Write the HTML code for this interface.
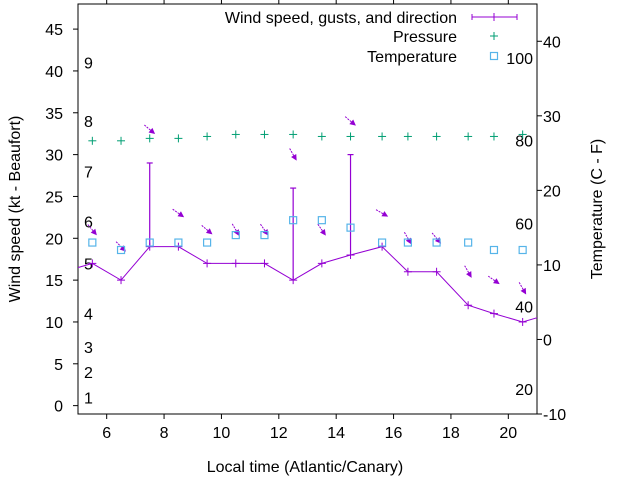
<!DOCTYPE html>
<html><head><meta charset="utf-8"><style>
html,body{margin:0;padding:0;background:#fff}
svg{display:block;font-family:"Liberation Sans",sans-serif}
</style></head><body>
<svg id="chart" width="640" height="480" viewBox="0 0 640 480" xmlns="http://www.w3.org/2000/svg">
<defs><clipPath id="plotclip"><rect x="78" y="4" width="459" height="410"/></clipPath></defs>
<g id="grid"></g>
<g id="marks" clip-path="url(#plotclip)"></g>
<g id="legend"></g>
</svg>
<script>
const times = [4.5,5.5,6.5,7.5,8.5,9.5,10.5,11.5,12.5,13.5,14.5,15.6,16.5,17.5,18.6,19.5,20.5,21.5];
const windKt = [16,17,15,19,19,17,17,17,15,17,18,19,16,16,12,11,10,11];
const gustKt = [null,null,null,29,null,null,null,null,26,null,30,null,null,null,null,null,null,null];
const windDir = [null,320,315,310,305,310,330,325,330,325,310,300,330,320,330,305,330,null];
const pressureScaled = [null,31.65,31.65,31.94,31.94,32.17,32.41,32.41,32.41,32.17,32.17,32.17,32.17,32.17,32.17,32.17,32.41,null];
const tempC = [null,13,12,13,13,13,14,14,16,16,15,13,13,13,13,12,12,null];
const xTicks = [6,8,10,12,14,16,18,20];
const yTicks = [0,5,10,15,20,25,30,35,40,45];
const y2Ticks = [-10,0,10,20,30,40];
const beaufortKt = [1,4,7,11,17,22,28,34,41];
const beaufortLabels = ["1","2","3","4","5","6","7","8","9"];
const fahrenheit = [20,40,60,80,100];

const L=78,R=537,T=4,B=414;
const FS=16;
const X=v=>L+(v-5)/(21-5)*(R-L);
const Y=v=>B-(v+1)/(48+1)*(B-T);
const Y2=v=>B-(v+10)/(45+10)*(B-T);
const NS="http://www.w3.org/2000/svg";
function mk(tag,attrs,parent,text){const e=document.createElementNS(NS,tag);for(const k in attrs)e.setAttribute(k,attrs[k]);if(text!==undefined)e.textContent=text;parent.appendChild(e);return e;}
const grid=document.getElementById('grid'),marks=document.getElementById('marks'),legend=document.getElementById('legend');
const WC="#9400d3",PC="#009e73",TC="#56b4e9";

let fr=mk('rect',{x:L,y:T,width:R-L,height:B-T,fill:'none',stroke:'#000','stroke-width':1},grid);

xTicks.forEach(v=>{const x=X(v);
 mk('line',{x1:x,y1:B,x2:x,y2:B+5,stroke:'#000'},grid);
 mk('line',{x1:x,y1:T,x2:x,y2:T-5,stroke:'#000'},grid);
 const t=mk('text',{x:x,y:B+24,'text-anchor':'middle','font-size':FS},grid,String(v));
 });
yTicks.forEach(v=>{const y=Y(v);
 mk('line',{x1:L,y1:y,x2:L-5,y2:y,stroke:'#000'},grid);
 const t=mk('text',{x:63,y:y+6,'text-anchor':'end','font-size':FS},grid,String(v));
 });
y2Ticks.forEach(v=>{const y=Y2(v);
 mk('line',{x1:R,y1:y,x2:R+5,y2:y,stroke:'#000'},grid);
 const t=mk('text',{x:543,y:y+6,'text-anchor':'start','font-size':FS},grid,String(v));
 });
beaufortKt.forEach((v,i)=>{const t=mk('text',{x:84,y:Y(v)+6,'font-size':FS},grid,beaufortLabels[i]);
 });
fahrenheit.forEach(f=>{const c=(f-32)*5/9;const t=mk('text',{x:533,y:Y2(c)+6,'text-anchor':'end','font-size':FS},grid,String(f));
 });
let t1=mk('text',{x:305,y:472,'text-anchor':'middle','font-size':FS},grid,'Local time (Atlantic/Canary)');

let t2=mk('text',{transform:'translate(20,209) rotate(-90)','text-anchor':'middle','font-size':FS},grid,'Wind speed (kt - Beaufort)');

let t3=mk('text',{transform:'translate(602,209) rotate(-90)','text-anchor':'middle','font-size':FS},grid,'Temperature (C - F)');


function plus(x,y,c,p){mk('line',{x1:x-4,y1:y,x2:x+4,y2:y,stroke:c},p);mk('line',{x1:x,y1:y-4,x2:x,y2:y+4,stroke:c},p);}
const pts=times.map((t,i)=>X(t)+','+Y(windKt[i])).join(' ');
let wl=mk('polyline',{points:pts,fill:'none',stroke:WC,'stroke-width':1},marks);

times.forEach((t,i)=>{const x=X(t);
 const g=mk('g',{},marks);
 plus(x,Y(windKt[i]),WC,g);
 if(gustKt[i]!=null){const gy=Y(gustKt[i]);
  mk('line',{x1:x,y1:Y(windKt[i]),x2:x,y2:gy,stroke:WC,'stroke-width':1.2},g);
  mk('line',{x1:x-3,y1:gy,x2:x+3,y2:gy,stroke:WC,'stroke-width':1.2},g);}
 if(windDir[i]!=null){const top=Math.max(windKt[i],gustKt[i]||0)+4;const cy=Y(top);
  const a=(windDir[i]+180)*Math.PI/180; const dx=Math.sin(a)*7,dy=-Math.cos(a)*7;
  const x1=x-dx,y1=cy-dy,x2=x+dx,y2=cy+dy;const ux=dx/7,uy=dy/7;
  const ar=mk('g',{},marks);
  mk('line',{x1:x1,y1:y1,x2:x2-ux*3,y2:y2-uy*3,stroke:WC,'stroke-width':1,'stroke-dasharray':'2,1'},ar);
  const bx=x2-ux*6,by=y2-uy*6;
  mk('polygon',{points:`${x2},${y2} ${bx-uy*3},${by+ux*3} ${bx+uy*3},${by-ux*3}`,fill:WC},ar);}
});
times.forEach((t,i)=>{if(pressureScaled[i]==null)return;
 const g=mk('g',{},marks);
 plus(X(t),Y(pressureScaled[i]),PC,g);});
times.forEach((t,i)=>{if(tempC[i]==null)return;
 const r=mk('rect',{x:X(t)-3.5,y:Y2(tempC[i])-3.5,width:7,height:7,fill:'none',stroke:TC,'stroke-width':1.2},marks);
 });

const lg=[['Wind speed, gusts, and direction',17],['Pressure',36],['Temperature',56]];
lg.forEach(l=>{const t=mk('text',{x:457,y:l[1]+6,'text-anchor':'end','font-size':FS},legend,l[0]);
 });
const k1=mk('g',{},legend);
mk('line',{x1:472,y1:17,x2:517,y2:17,stroke:WC},k1);mk('line',{x1:472,y1:14,x2:472,y2:20,stroke:WC},k1);mk('line',{x1:517,y1:14,x2:517,y2:20,stroke:WC},k1);plus(494,17,WC,k1);
const k2=mk('g',{},legend);plus(494,36,PC,k2);
const k3=mk('rect',{x:490.5,y:52.5,width:7,height:7,fill:'none',stroke:TC,'stroke-width':1.2},legend);

</script>
</body></html>
